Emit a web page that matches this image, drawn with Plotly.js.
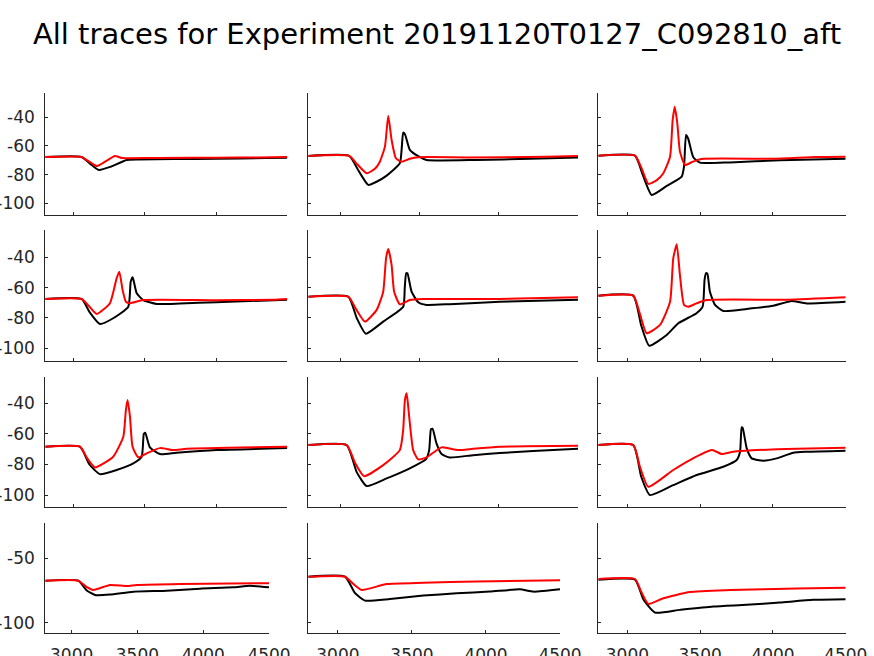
<!DOCTYPE html>
<html>
<head>
<meta charset="utf-8">
<script src="https://cdn.plot.ly/plotly-3.0.1.min.js"></script>
<style>html,body{margin:0;padding:0;background:#fff;}#chart{width:874px;height:656px;}</style>
</head>
<body>
<div id="chart"></div>
<script>
// Tick labels
const xTicks = [3000, 3500, 4000, 4500];
const yTicksTop = [-100, -80, -60, -40];
const yTicksBottom = [-100, -50];

// Panel 1 (row 1, col 1)
const p1_rx = [2800, 3055, 3100, 3161, 3220, 3289, 3340, 3395, 3600, 4000, 4300, 4500];
const p1_ry = [-67.7, -67.7, -70.5, -74, -71, -67, -68.5, -68.6, -68.4, -68.2, -68, -67.7];
const p1_bx = [2800, 3055, 3110, 3177, 3260, 3371, 3450, 3700, 4000, 4350, 4500];
const p1_by = [-67.7, -67.7, -72, -76.8, -74.5, -69.8, -69.4, -69.2, -69, -68.5, -68.3];
// Panel 2 (row 1, col 2)
const p2_rx = [2800, 3058, 3110, 3168, 3220, 3251, 3283, 3304, 3325, 3352, 3388, 3440, 3493, 3800, 4300, 4500];
const p2_ry = [-67, -67, -73, -79.1, -76, -71, -60.5, -38.9, -55.8, -68.6, -71, -69, -67.9, -68, -67.6, -67];
const p2_bx = [2800, 3058, 3115, 3178, 3230, 3294, 3377, 3390, 3398, 3410, 3440, 3493, 3545, 3860, 4200, 4500];
const p2_by = [-67, -67, -77, -87.2, -85, -80.7, -72.1, -60, -50.7, -52, -62.8, -67.2, -69.8, -69.8, -69, -68];
// Panel 3 (row 1, col 3)
const p3_rx = [2800, 3052, 3095, 3144, 3200, 3247, 3293, 3311, 3325, 3343, 3361, 3396, 3450, 3510, 4000, 4300, 4500];
const p3_ry = [-66.8, -66.8, -75, -86.5, -84, -79.1, -67.5, -41.9, -32.6, -44.2, -64, -73.3, -71, -69.1, -69, -67.8, -67.6];
const p3_bx = [2800, 3052, 3105, 3167, 3270, 3373, 3389, 3403, 3418, 3453, 3499, 3705, 4048, 4500];
const p3_by = [-66.8, -66.8, -80, -94.2, -87.9, -81.4, -74.5, -52.4, -55, -67.9, -71.7, -71.5, -70, -68.9];
// Panel 4 (row 2, col 1)
const p4_rx = [2800, 3055, 3105, 3161, 3254, 3301, 3320, 3343, 3366, 3395, 3488, 4000, 4400, 4500];
const p4_ry = [-67.5, -67.5, -72, -77.4, -70.3, -53.9, -49.5, -61.6, -69.3, -70.3, -68.2, -68.3, -68, -67.5];
const p4_bx = [2800, 3055, 3110, 3184, 3277, 3383, 3400, 3414, 3442, 3488, 3582, 3746, 4000, 4500];
const p4_by = [-67.5, -67.5, -76, -84, -80.2, -72.6, -56.2, -53.2, -63.7, -68.2, -70.8, -70.5, -69.6, -68];
// Panel 5 (row 2, col 2)
const p5_rx = [2800, 3052, 3100, 3157, 3231, 3272, 3290, 3304, 3325, 3341, 3377, 3440, 3524, 4000, 4500];
const p5_ry = [-66, -66, -74, -82.4, -74.7, -62.7, -40.7, -34.5, -45, -62.7, -71, -68.2, -67.5, -67.5, -66.4];
const p5_bx = [2800, 3052, 3105, 3163, 3272, 3398, 3408, 3417, 3425, 3451, 3493, 3545, 3692, 4007, 4500];
const p5_by = [-66, -66, -80, -90.4, -82.4, -72.6, -60, -50.5, -50.5, -62.7, -69.7, -71.4, -70.9, -69.3, -68];
// Panel 6 (row 2, col 3)
const p6_rx = [2800, 3040, 3085, 3132, 3224, 3293, 3315, 3339, 3361, 3389, 3418, 3475, 3545, 4100, 4500];
const p6_ry = [-65.3, -65.3, -77, -90.1, -84.6, -69.3, -40.7, -31.4, -51.7, -71.4, -72.6, -70.4, -68.2, -68, -66.4];
const p6_bx = [2800, 3040, 3095, 3150, 3270, 3350, 3475, 3517, 3530, 3540, 3550, 3567, 3602, 3659, 3820, 4002, 4129, 4232, 4500];
const p6_by = [-65.3, -65.3, -85, -98.3, -91.2, -83.5, -76.9, -72.6, -55, -50.5, -51, -62.7, -71.4, -75.4, -74.1, -72, -68.8, -70.4, -69.3];
// Panel 7 (row 3, col 1)
const p7_rx = [2800, 3044, 3095, 3149, 3277, 3348, 3366, 3378, 3395, 3413, 3453, 3512, 3605, 3699, 3793, 4500];
const p7_ry = [-68.4, -68.4, -76, -81.9, -74.9, -61.9, -44.4, -37.8, -48.8, -68.4, -75.3, -72.7, -69.3, -70.6, -69.7, -68.4];
const p7_bx = [2800, 3044, 3110, 3184, 3301, 3418, 3477, 3492, 3502, 3535, 3605, 3722, 4003, 4500];
const p7_by = [-68.4, -68.4, -80, -86.3, -83.6, -79.3, -74.9, -60, -59.2, -68.8, -73.2, -72.3, -70.6, -69.3];
// Panel 8 (row 3, col 2)
const p8_rx = [2800, 3042, 3095, 3151, 3272, 3377, 3398, 3409, 3420, 3436, 3461, 3493, 3545, 3640, 3744, 3839, 4007, 4500];
const p8_ry = [-67.3, -67.3, -79, -87.6, -80.4, -70.6, -57.5, -37.8, -33.5, -48.8, -70.6, -76.7, -75.4, -68.8, -70.6, -69.7, -68.4, -67.8];
const p8_bx = [2800, 3042, 3105, 3168, 3294, 3440, 3541, 3562, 3573, 3583, 3608, 3640, 3692, 3839, 4007, 4217, 4500];
const p8_by = [-67.3, -67.3, -85, -94.1, -89.1, -82.5, -76.7, -70.6, -57, -56.6, -66.2, -73.2, -75.4, -73.9, -72.5, -71.2, -69.7];
// Panel 9 (row 3, col 3)
const p9_rx = [2800, 3040, 3086, 3144, 3315, 3430, 3579, 3613, 3648, 3727, 3888, 4163, 4500];
const p9_ry = [-67.3, -67.3, -81.5, -94.6, -83.6, -77.1, -70.6, -71.7, -73.2, -71.7, -70.6, -69.7, -69.1];
const p9_bx = [2800, 3040, 3095, 3155, 3315, 3476, 3659, 3751, 3774, 3785, 3792, 3820, 3854, 3934, 4026, 4140, 4232, 4500];
const p9_by = [-67.3, -67.3, -88, -100, -93.5, -86.9, -81.5, -77.1, -71.7, -55.7, -56, -69.5, -76, -77.5, -76, -72.3, -71.7, -71];
// Panel 10 (row 4, col 1)
const p10_rx = [2800, 3051, 3110, 3165, 3292, 3419, 3495, 3824, 4500];
const p10_ry = [-67.4, -67.4, -72, -74.6, -70.7, -71.5, -70.7, -69.9, -69.4];
const p10_bx = [2800, 3051, 3115, 3178, 3292, 3469, 3723, 3976, 4229, 4356, 4500];
const p10_by = [-67.4, -67.4, -75, -78.5, -78.2, -76, -75.2, -73.6, -72.6, -71.4, -72.6];
// Panel 11 (row 4, col 2)
const p11_rx = [2800, 3048, 3105, 3161, 3329, 3577, 3937, 4500];
const p11_ry = [-64.3, -64.3, -70, -74.6, -70, -69, -68, -67.1];
const p11_bx = [2800, 3048, 3115, 3183, 3352, 3577, 3802, 4027, 4230, 4320, 4500];
const p11_by = [-64.3, -64.3, -77, -82.9, -81.6, -79, -77.2, -75.9, -74.1, -75.9, -74.1];
// Panel 12 (row 4, col 3)
const p12_rx = [2800, 3052, 3095, 3144, 3247, 3430, 3705, 4163, 4500];
const p12_ry = [-66.1, -66.1, -76, -85.5, -81.1, -76.2, -74.7, -73.4, -72.9];
const p12_bx = [2800, 3052, 3110, 3190, 3361, 3590, 3819, 4048, 4277, 4500];
const p12_by = [-66.6, -66.6, -82, -92.2, -90.1, -87.5, -86.2, -84.4, -82.3, -81.8];

const panels = [
  [p1_bx, p1_by, p1_rx, p1_ry], [p2_bx, p2_by, p2_rx, p2_ry], [p3_bx, p3_by, p3_rx, p3_ry],
  [p4_bx, p4_by, p4_rx, p4_ry], [p5_bx, p5_by, p5_rx, p5_ry], [p6_bx, p6_by, p6_rx, p6_ry],
  [p7_bx, p7_by, p7_rx, p7_ry], [p8_bx, p8_by, p8_rx, p8_ry], [p9_bx, p9_by, p9_rx, p9_ry],
  [p10_bx, p10_by, p10_rx, p10_ry], [p11_bx, p11_by, p11_rx, p11_ry], [p12_bx, p12_by, p12_rx, p12_ry]
];

const W = 874, H = 656;
// pixel layout of the axes boxes
const colPx = [[45.3, 287.3], [308.3, 578], [598.3, 845.7]];
const colPxBottom = [[45.3, 269], [308.3, 560], [598.3, 845.7]];
const rowPx = [[93.3, 215], [230, 360.7], [376.7, 506.7], [523.3, 633.3]];
const rowRange = [[-108.2, -23.3], [-108.2, -22], [-107.6, -22.6], [-108.3, -22.8]];

const tickFont = {family: 'DejaVu Sans, sans-serif', size: 17, color: '#262626'};
const traces = [];
const layout = {
  width: W, height: H,
  margin: {l: 0, r: 0, t: 0, b: 0},
  paper_bgcolor: '#ffffff', plot_bgcolor: '#ffffff',
  showlegend: false,
  title: {
    text: 'All traces for Experiment 20191120T0127_C092810_aft',
    font: {family: 'DejaVu Sans, sans-serif', size: 29, color: '#000000'},
    x: 0.5, xanchor: 'center', y: 1 - 34 / H, yanchor: 'middle'
  }
};

panels.forEach((p, i) => {
  const r = Math.floor(i / 3), c = i % 3;
  const n = i === 0 ? '' : String(i + 1);
  const xa = 'x' + n, ya = 'y' + n;
  const shape = {shape: 'spline', smoothing: 0.5};
  traces.push({x: p[0], y: p[1], xaxis: xa, yaxis: ya, mode: 'lines', hoverinfo: 'skip',
    line: Object.assign({color: '#000000', width: 2}, shape)});
  traces.push({x: p[2], y: p[3], xaxis: xa, yaxis: ya, mode: 'lines', hoverinfo: 'skip',
    line: Object.assign({color: '#ff0000', width: 2}, shape)});
  const cp = r === 3 ? colPxBottom[c] : colPx[c];
  layout['xaxis' + n] = {
    domain: [cp[0] / W, cp[1] / W], anchor: ya, range: [2800, 4500],
    tickvals: xTicks, ticktext: xTicks.map(String), showticklabels: r === 3,
    ticks: 'inside', ticklen: 3, tickcolor: '#262626', tickwidth: 1,
    showline: true, linecolor: '#262626', linewidth: 1, mirror: false,
    showgrid: false, zeroline: false, tickfont: tickFont, ticklabelstandoff: 6
  };
  const yt = r === 3 ? yTicksBottom : yTicksTop;
  layout['yaxis' + n] = {
    domain: [1 - rowPx[r][1] / H, 1 - rowPx[r][0] / H], anchor: xa, range: rowRange[r],
    tickvals: yt, ticktext: yt.map(String), showticklabels: c === 0,
    ticks: 'inside', ticklen: 3, tickcolor: '#262626', tickwidth: 1,
    showline: true, linecolor: '#262626', linewidth: 1, mirror: false,
    showgrid: false, zeroline: false, tickfont: tickFont, ticklabelstandoff: 6
  };
});

Plotly.newPlot('chart', traces, layout, {staticPlot: true, displayModeBar: false});
</script>
</body>
</html>
